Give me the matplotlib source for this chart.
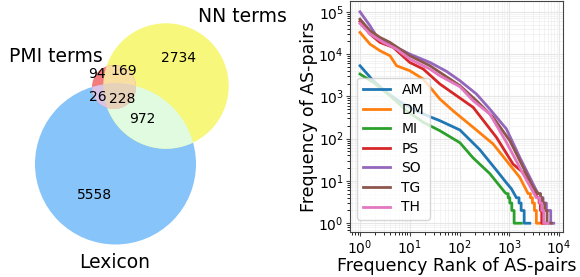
import numpy as np
import matplotlib
matplotlib.use("Agg")
import matplotlib.pyplot as plt
from matplotlib.patches import Circle, Polygon

# Venn counts
venn_labels = ["PMI terms", "NN terms", "Lexicon"]
only_pmi, only_nn, only_lex = 94, 2734, 5558
pmi_nn, pmi_lex, nn_lex, all_three = 169, 26, 972, 228

# rank-frequency curves (rank, frequency)
series = ["AM", "DM", "MI", "PS", "SO", "TG", "TH"]
colors = ["#1f77b4", "#ff7f0e", "#2ca02c", "#d62728", "#9467bd", "#8c564b", "#e377c2"]

am_rank = [1, 1.85, 3.43, 6.3, 13.7, 25.4, 40.3, 102, 255, 561, 877, 1105, 1390,
           1390, 1570, 1570, 1730, 1730, 1990, 1990, 2580]
am_freq = [5300, 2340, 1240, 750, 450, 330, 266, 160, 55, 17.5, 9, 6.5, 4,
           4, 4, 3, 3, 2, 2, 1, 1]

dm_rank = [1, 1.59, 2.52, 4.0, 5.44, 10, 18.7, 40.3, 73.5, 188, 474, 877, 1620,
           2390, 2660, 2660, 2920, 2920, 3200, 3200, 3500, 3500, 4560]
dm_freq = [32500, 17200, 12000, 9140, 5300, 4040, 2560, 865, 459, 185, 74.8, 30.2, 12.2,
           5, 5, 4, 4, 3, 3, 2, 2, 1, 1]

mi_rank = [1, 1.85, 4.0, 8.6, 18.7, 40.3, 102, 185, 406, 812,
           877, 948, 948, 1024, 1024, 1123, 1123, 1250, 1250, 1750]
mi_freq = [3370, 2140, 1040, 459, 243, 154, 80, 35.6, 14.9, 5.4,
           5, 5, 4, 4, 3, 3, 2, 2, 1, 1]

ps_rank = [1, 1.59, 2.52, 4.66, 10, 18.7, 40.3, 188, 553, 1190, 2050, 3010,
           3620, 3970, 3970, 4220, 4220, 4490, 4490, 5160]
ps_freq = [59100, 29700, 18900, 14400, 6350, 4420, 1960, 550, 107, 25, 14.6, 7.1,
           4, 4, 3, 3, 2, 2, 1, 1]

so_rank = [1, 1.59, 2.23, 3.43, 6.35, 10, 25.4, 54.8, 102, 219, 406, 877, 1625, 2580, 3510,
           3790, 4220, 4220, 4780, 4780, 5570, 5570, 6800, 6800, 7820]
so_freq = [100000, 46700, 24800, 18900, 13100, 10000, 6350, 3900, 2340, 1135, 500, 169, 36, 12.2, 5.9,
           5, 5, 4, 4, 3, 3, 2, 2, 1, 1]

tg_rank = [1, 1.59, 2.52, 4.0, 10, 25.4, 102, 219, 474, 1024, 1900, 3010,
           3790, 4220, 4220, 4630, 4630, 5150, 5150, 5740, 5740, 7020]
tg_freq = [67100, 35600, 24800, 18900, 9140, 5300, 1790, 790, 319, 89.7, 21, 7.1,
           5, 5, 4, 4, 3, 3, 2, 2, 1, 1]

th_rank = [1, 1.59, 2.94, 5.44, 10, 25.4, 40.3, 102, 188, 406, 877, 1900,
           3500, 4090, 4090, 4490, 4490, 4920, 4920, 6010]
th_freq = [53000, 29700, 18900, 13100, 7620, 4420, 3070, 1690, 790, 383, 82, 14.6,
           4, 4, 3, 3, 2, 2, 1, 1]

ranks = [am_rank, dm_rank, mi_rank, ps_rank, so_rank, tg_rank, th_rank]
freqs = [am_freq, dm_freq, mi_freq, ps_freq, so_freq, tg_freq, th_freq]


def lens(circles, n=720):
    # intersection polygon of several circles
    pts = []
    for cx, cy, r in circles:
        t = np.linspace(0, 2 * np.pi, n)
        p = np.c_[cx + r * np.cos(t), cy + r * np.sin(t)]
        ok = np.all([np.hypot(p[:, 0] - ox, p[:, 1] - oy) <= orr + 1e-6
                     for ox, oy, orr in circles], axis=0)
        pts.append(p[ok])
    pts = np.vstack(pts)
    c = pts.mean(0)
    return pts[np.argsort(np.arctan2(pts[:, 1] - c[1], pts[:, 0] - c[0]))]


fig = plt.figure(figsize=(5.8, 2.77), dpi=100)

# ---- Venn diagram (pixel-like coordinates)
ax1 = fig.add_axes([0, 0, 0.5, 1])
ax1.set_xlim(0, 290)
ax1.set_ylim(277, 0)
ax1.axis("off")

pmi = (114, 87, 22)
nn = (166, 86, 62.7)
lex = (115.5, 164, 80.5)

ax1.add_patch(Circle(lex[:2], lex[2], color="#87c4f9", lw=0))
ax1.add_patch(Circle(nn[:2], nn[2], color="#f7f77b", lw=0))
ax1.add_patch(Circle(pmi[:2], pmi[2], color="#f37d7d", lw=0))
ax1.add_patch(Polygon(lens([nn, lex]), color="#e0fbdf", lw=0))
ax1.add_patch(Polygon(lens([pmi, nn]), color="#f9dea2", lw=0))
ax1.add_patch(Polygon(lens([pmi, lex]), color="#d9c3e6", lw=0))
ax1.add_patch(Polygon(lens([pmi, nn, lex]), color="#e6d2b8", lw=0))

num = dict(fontsize=10, ha="center", va="center")
ax1.text(179, 58, str(only_nn), **num)
ax1.text(124, 71, str(pmi_nn), **num)
ax1.text(97, 74, str(only_pmi), **num)
ax1.text(98, 97, str(pmi_lex), **num)
ax1.text(122, 99, str(all_three), **num)
ax1.text(142, 119, str(nn_lex), **num)
ax1.text(95, 195, str(only_lex), **num)

lab = dict(fontsize=13.5, ha="center", va="center")
ax1.text(56, 57, venn_labels[0], **lab)
ax1.text(242, 17, venn_labels[1], **lab)
ax1.text(115, 263, venn_labels[2], **lab)

# ---- rank-frequency plot
ax2 = fig.add_axes([350 / 580, 45 / 277, 213 / 580, 231 / 277])
for name, c, r, f in zip(series, colors, ranks, freqs):
    ax2.plot(r, f, color=c, lw=2, label=name)
ax2.set_xscale("log")
ax2.set_yscale("log")
ax2.set_xlim(0.63, 12000)
ax2.set_ylim(0.62, 1.8e5)
ax2.grid(True, which="major", color="#e6e6e6", lw=0.8)
ax2.grid(True, which="minor", color="#eeeeee", lw=0.5)
ax2.set_axisbelow(True)
for s in ax2.spines.values():
    s.set_color("#444444")
ax2.tick_params(labelsize=10, length=3, pad=1.5, color="#444444")
ax2.set_xlabel("Frequency Rank of AS-pairs", fontsize=12.5, labelpad=0)
ax2.set_ylabel("Frequency of AS-pairs", fontsize=12.5, labelpad=0)
ax2.legend(loc="lower left", bbox_to_anchor=(0.033, 0.052), borderaxespad=0,
           fontsize=10, labelspacing=0.4, framealpha=0.8)

fig.savefig("out.png", dpi=100)
